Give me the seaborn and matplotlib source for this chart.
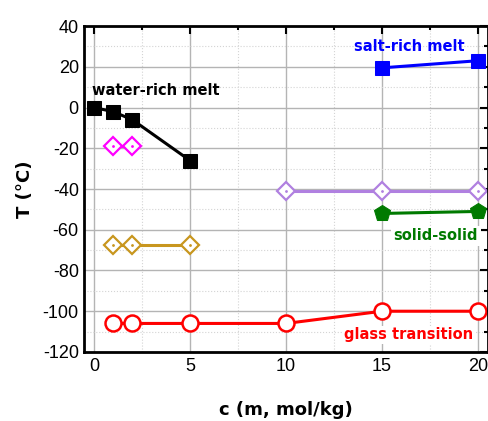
import matplotlib
matplotlib.use("Agg")
import matplotlib.pyplot as plt
from matplotlib.ticker import MultipleLocator
import seaborn as sns

# data
water_c = [0, 1, 2, 5]
water_T = [0, -2, -6, -26]
salt_c = [15, 20]
salt_T = [19.5, 23]
magenta_c = [1, 2]
magenta_T = [-19, -19]
gold_c = [1, 2, 5]
gold_T = [-67.5, -67.5, -67.5]
purple_c = [10, 15, 20]
purple_T = [-41, -41, -41]
solid_c = [15, 20]
solid_T = [-52, -51]
glass_c = [1, 2, 5, 10, 15, 20]
glass_T = [-106, -106, -106, -106, -100, -100]

sns.set_style("white")
plt.rcParams['font.family'] = ['DejaVu Sans']
plt.rcParams['axes.unicode_minus'] = False

fig = plt.figure(figsize=(4.88, 4.21), dpi=100)
ax = fig.add_axes([0.173, 0.164, 0.826, 0.774])

lw = 2.2
sns.lineplot(x=water_c, y=water_T, ax=ax, color="black", linewidth=lw,
             marker="s", markersize=10, markeredgecolor="black")
sns.lineplot(x=salt_c, y=salt_T, ax=ax, color="#0000FF", linewidth=lw,
             marker="s", markersize=10, markeredgecolor="#0000FF")
sns.lineplot(x=solid_c, y=solid_T, ax=ax, color="#007A00", linewidth=lw,
             marker="p", markersize=12, markeredgecolor="#007A00")
sns.lineplot(x=glass_c, y=glass_T, ax=ax, color="#FF0000", linewidth=lw,
             marker="o", markersize=11.5, markerfacecolor="white",
             markeredgecolor="#FF0000", markeredgewidth=1.8)

for cc, tt, col in [(magenta_c, magenta_T, "#FF00FF"),
                    (gold_c, gold_T, "#C8961E"),
                    (purple_c, purple_T, "#B080E0")]:
    sns.lineplot(x=cc, y=tt, ax=ax, color=col, linewidth=lw,
                 marker="D", markersize=9, markerfacecolor="white",
                 markeredgecolor=col, markeredgewidth=1.6)
    ax.plot(cc, tt, linestyle="none", marker=".", markersize=2, color=col)

ax.set_xlim(-0.5, 20.5)
ax.set_ylim(-120, 40)
ax.xaxis.set_major_locator(MultipleLocator(5))
ax.xaxis.set_minor_locator(MultipleLocator(2.5))
ax.yaxis.set_major_locator(MultipleLocator(20))
ax.yaxis.set_minor_locator(MultipleLocator(10))

ax.grid(which="major", color="#B4B4B4", linewidth=1.0, linestyle="-")
ax.grid(which="minor", color="#D4D4D4", linewidth=0.8, linestyle=":")
ax.set_axisbelow(True)

ax.tick_params(which="both", direction="in", top=True, right=True,
               labelsize=13, width=1.5, colors="black")
ax.tick_params(which="major", length=6, pad=4)
ax.tick_params(which="minor", length=3)
for lab in ax.get_xticklabels() + ax.get_yticklabels():
    lab.set_family(["Liberation Sans", "DejaVu Sans"])
for s in ax.spines.values():
    s.set_linewidth(2)
    s.set_color("black")

ax.set_xlabel("c (m, mol/kg)", fontsize=13, fontweight="bold", labelpad=19,
              color="black")
ax.set_ylabel("T (°C)", fontsize=13, fontweight="bold", labelpad=6,
              color="black")

ax.text(-0.1, 8.6, "water-rich melt", color="black", fontsize=10.5,
        fontweight="bold", ha="left", va="center")
ax.text(16.45, 30, "salt-rich melt", color="#0000FF", fontsize=10.5,
        fontweight="bold", ha="center", va="center")
ax.text(17.8, -63, "solid-solid", color="#007A00", fontsize=10.5,
        fontweight="bold", ha="center", va="center",
        bbox=dict(facecolor="white", edgecolor="none", pad=2))
ax.text(16.4, -111.5, "glass transition", color="#FF0000", fontsize=10.5,
        fontweight="bold", ha="center", va="center",
        bbox=dict(facecolor="white", edgecolor="none", pad=1))

fig.savefig("out.png", dpi=100)
